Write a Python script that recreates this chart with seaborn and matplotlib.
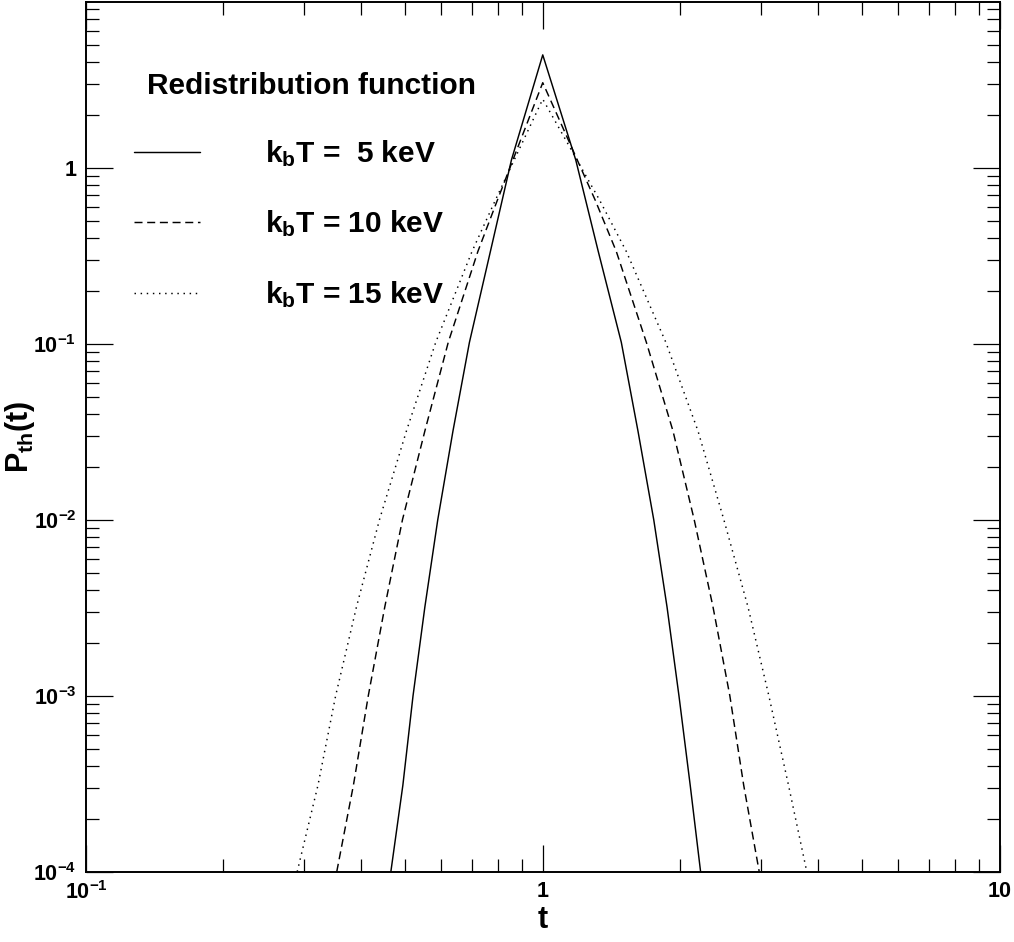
import numpy as np
import pandas as pd
import matplotlib
matplotlib.use("Agg")
import matplotlib.pyplot as plt
import seaborn as sns
from matplotlib.ticker import FixedLocator, FixedFormatter, LogLocator, NullFormatter
from matplotlib.lines import Line2D

# ---------------- data ----------------
t_5 = [0.465, 0.494, 0.520, 0.552, 0.589, 0.636, 0.691, 0.768, 0.854, 1.0,
       1.181, 1.323, 1.486, 1.616, 1.750, 1.871, 1.987, 2.103, 2.216]
p_5 = [1.0e-4, 3.1e-4, 1.0e-3, 3.2e-3, 1.0e-2, 3.2e-2, 0.102, 0.335, 1.11, 4.39,
       1.11, 0.335, 0.102, 3.2e-2, 1.0e-2, 3.2e-3, 1.0e-3, 3.1e-4, 1.0e-4]

t_10 = [0.354, 0.385, 0.415, 0.451, 0.493, 0.552, 0.621, 0.721, 0.796, 1.0,
        1.302, 1.449, 1.686, 1.928, 2.146, 2.359, 2.568, 2.754, 2.978]
p_10 = [1.0e-4, 3.1e-4, 1.0e-3, 3.2e-3, 1.0e-2, 3.2e-2, 0.102, 0.335, 0.658, 3.05,
        0.658, 0.335, 0.102, 3.2e-2, 1.0e-2, 3.2e-3, 1.0e-3, 3.1e-4, 1.0e-4]

t_15 = [0.290, 0.322, 0.352, 0.391, 0.439, 0.503, 0.583, 0.700, 0.788, 1.0,
        1.331, 1.524, 1.860, 2.187, 2.492, 2.814, 3.126, 3.452, 3.785]
p_15 = [1.0e-4, 3.1e-4, 1.0e-3, 3.2e-3, 1.0e-2, 3.2e-2, 0.102, 0.335, 0.658, 2.46,
        0.658, 0.335, 0.102, 3.2e-2, 1.0e-2, 3.2e-3, 1.0e-3, 3.1e-4, 1.0e-4]

series_labels = [r"k$_{b}$T =  5 keV", r"k$_{b}$T = 10 keV", r"k$_{b}$T = 15 keV"]
legend_title = "Redistribution function"
x_ticks = [0.1, 1, 10]
x_tick_labels = [r"$10^{-1}$", "1", "10"]
y_ticks = [1e-4, 1e-3, 1e-2, 1e-1, 1]
y_tick_labels = [r"$10^{-4}$", r"$10^{-3}$", r"$10^{-2}$", r"$10^{-1}$", "1"]
x_label = "t"
y_label = r"P$_{th}$(t)"

# ---------------- style ----------------
sns.set_style("ticks")
plt.rcParams["font.family"] = ["Liberation Sans", "DejaVu Sans"]
plt.rcParams["font.weight"] = "bold"
plt.rcParams["text.color"] = "black"
plt.rcParams["axes.labelcolor"] = "black"
plt.rcParams["xtick.color"] = "black"
plt.rcParams["ytick.color"] = "black"
plt.rcParams["mathtext.fontset"] = "custom"
plt.rcParams["mathtext.rm"] = "Liberation Sans:bold"
plt.rcParams["mathtext.it"] = "Liberation Sans:bold"
plt.rcParams["mathtext.bf"] = "Liberation Sans:bold"
plt.rcParams["mathtext.default"] = "rm"

W, H = 1014, 942
fig = plt.figure(figsize=(W / 100, H / 100), dpi=100)
fig.patch.set_facecolor("white")
L, R, T, B = 86, 999.5, 2, 871.7
ax = fig.add_axes([L / W, 1 - B / H, (R - L) / W, (B - T) / H])
ax.set_facecolor("white")

styles = ["-", (0, (5.5, 3.2)), (0, (1.0, 3.2))]
frames = [pd.DataFrame({"t": t, "P": p}) for t, p in [(t_5, p_5), (t_10, p_10), (t_15, p_15)]]
for df, ls in zip(frames, styles):
    sns.lineplot(data=df, x="t", y="P", ax=ax, color="black", linestyle=ls,
                 linewidth=1.05, estimator=None, sort=False, legend=False)

ax.set_xscale("log")
ax.set_yscale("log")
ax.set_xlim(0.1, 10)
ax.set_ylim(1e-4, 8.77)

ax.xaxis.set_major_locator(FixedLocator(x_ticks))
ax.xaxis.set_major_formatter(FixedFormatter(x_tick_labels))
ax.yaxis.set_major_locator(FixedLocator(y_ticks))
ax.yaxis.set_major_formatter(FixedFormatter(y_tick_labels))
ax.xaxis.set_minor_locator(LogLocator(base=10, subs=np.arange(2, 10), numticks=20))
ax.yaxis.set_minor_locator(LogLocator(base=10, subs=np.arange(2, 10), numticks=20))
ax.xaxis.set_minor_formatter(NullFormatter())
ax.yaxis.set_minor_formatter(NullFormatter())

ax.tick_params(which="both", direction="in", top=True, right=True, width=0.9,
               colors="black", labelsize=15.5)
ax.tick_params(which="major", length=19.5, pad=7)
ax.tick_params(which="minor", length=9.5)
for lab in ax.get_xticklabels() + ax.get_yticklabels():
    lab.set_fontweight("bold")
    lab.set_color("black")
for s in ax.spines.values():
    s.set_linewidth(1.4)
    s.set_color("black")
    s.set_visible(True)

ax.set_xlabel(x_label, fontsize=22, fontweight="bold", color="black")
ax.set_ylabel(y_label, fontsize=22, fontweight="bold", color="black")
ax.xaxis.label.set_va("center")
ax.yaxis.label.set_va("center")
ax.xaxis.set_label_coords(0.5, (B - 920) / (B - T))
ax.yaxis.set_label_coords((20 - L) / (R - L), 0.5)

# legend
fig.text(147 / W, 1 - 86 / H, legend_title, fontsize=21.5, fontweight="bold",
         ha="left", va="center", color="black")
handles = [Line2D([], [], color="black", linestyle=ls, linewidth=1.05) for ls in styles]
leg = ax.legend(handles, series_labels, loc="upper left",
                bbox_to_anchor=(134 / W, 1 - 138 / H), bbox_transform=fig.transFigure,
                frameon=False, fontsize=21.5, handlelength=2.2, handletextpad=2.2,
                labelspacing=1.33, borderpad=0, borderaxespad=0)
for txt in leg.get_texts():
    txt.set_fontweight("bold")
    txt.set_color("black")

fig.savefig("out.png", dpi=100, facecolor="white")
